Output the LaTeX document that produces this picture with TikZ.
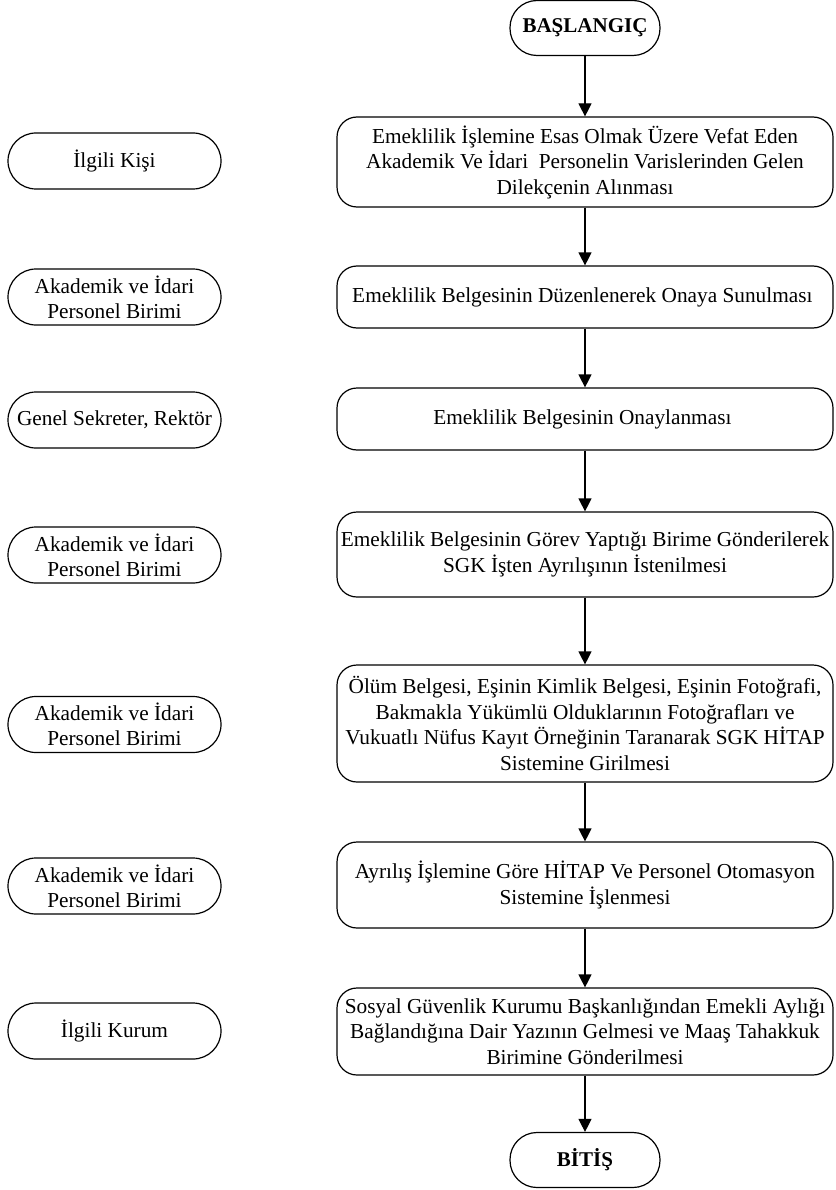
\documentclass[tikz,border=0pt]{standalone}
\usepackage{fontspec}
\setmainfont{Liberation Serif}
\usetikzlibrary{arrows.meta}

\begin{document}
\begin{tikzpicture}[x=1pt, y=-1pt]
        % Define styles
        \tikzstyle{terminal}=[draw, line width=1.2pt, rounded corners=27pt, minimum width=150pt, minimum height=55pt, font=\fontsize{21}{25}\selectfont\bfseries]
        \tikzstyle{actor}=[draw, line width=1.2pt, rounded corners=28pt, minimum width=213pt, minimum height=56pt, inner sep=2pt, align=center, font=\fontsize{21.3}{25}\selectfont]
        \tikzstyle{process}=[draw, line width=1.2pt, rounded corners=20pt, minimum width=496pt, inner sep=2pt, align=center, font=\fontsize{21.3}{25.5}\selectfont]
        \tikzstyle{arrow}=[-{Triangle[length=13pt, width=13pt]}, line width=1.2pt]

        \useasboundingbox (0,0) rectangle (835,1190);

        % Start
        \node[terminal] (start) at (585,28) {BAŞLANGIÇ};

        % Steps (right column)
        \node[process, minimum height=90pt] (step1) at (585,162) {
            Emeklilik İşlemine Esas Olmak Üzere Vefat Eden\\
            Akademik Ve İdari \ Personelin Varislerinden Gelen\\
            Dilekçenin Alınması
        };
        \node[process, minimum height=62pt] (step2) at (585,297) {
            Emeklilik Belgesinin Düzenlenerek Onaya Sunulması
        };
        \node[process, minimum height=62pt] (step3) at (585,419) {
            Emeklilik Belgesinin Onaylanması
        };
        \node[process, minimum height=85pt] (step4) at (585,554.5) {
            Emeklilik Belgesinin Görev Yaptığı Birime Gönderilerek\\
            SGK İşten Ayrılışının İstenilmesi
        };
        \node[process, minimum height=117pt] (step5) at (585,723.5) {
            Ölüm Belgesi, Eşinin Kimlik Belgesi, Eşinin Fotoğrafi,\\
            Bakmakla Yükümlü Olduklarının Fotoğrafları ve\\
            Vukuatlı Nüfus Kayıt Örneğinin Taranarak SGK HİTAP\\
            Sistemine Girilmesi
        };
        \node[process, minimum height=86pt] (step6) at (585,885) {
            Ayrılış İşlemine Göre HİTAP Ve Personel Otomasyon\\
            Sistemine İşlenmesi
        };
        \node[process, minimum height=87pt] (step7) at (585,1031.5) {
            Sosyal Güvenlik Kurumu Başkanlığından Emekli Aylığı\\
            Bağlandığına Dair Yazının Gelmesi ve Maaş Tahakkuk\\
            Birimine Gönderilmesi
        };

        % End
        \node[terminal] (end) at (585,1160) {BİTİŞ};

        % Responsible units (left column)
        \node[actor] (who1) at (114.5,161) {İlgili Kişi};
        \node[actor] (who2) at (114.5,297) {Akademik ve İdari\\ Personel Birimi};
        \node[actor] (who3) at (114.5,420) {Genel Sekreter, Rektör};
        \node[actor] (who4) at (114.5,555) {Akademik ve İdari\\ Personel Birimi};
        \node[actor] (who5) at (114.5,724.5) {Akademik ve İdari\\ Personel Birimi};
        \node[actor] (who6) at (114.5,886) {Akademik ve İdari\\ Personel Birimi};
        \node[actor] (who7) at (114.5,1031) {İlgili Kurum};

        % Arrows
        \draw[arrow] (start) -- (step1);
        \draw[arrow] (step1) -- (step2);
        \draw[arrow] (step2) -- (step3);
        \draw[arrow] (step3) -- (step4);
        \draw[arrow] (step4) -- (step5);
        \draw[arrow] (step5) -- (step6);
        \draw[arrow] (step6) -- (step7);
        \draw[arrow] (step7) -- (end);

    \end{tikzpicture}
\end{document}
